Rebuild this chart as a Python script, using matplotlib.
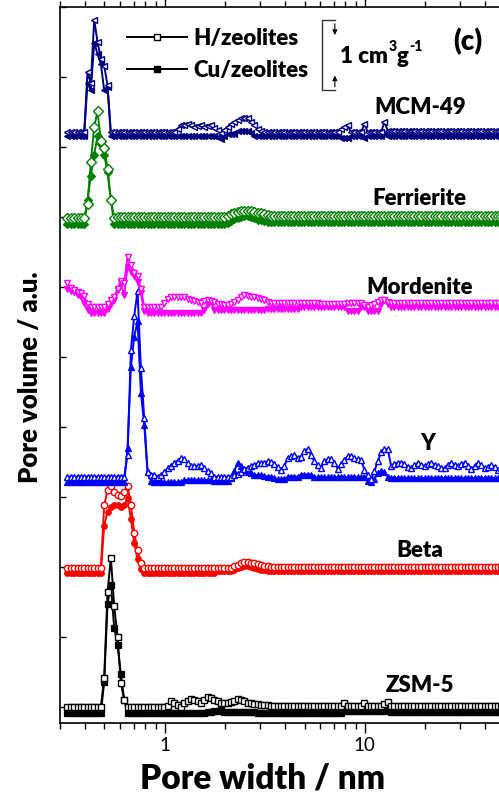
import numpy as np
import matplotlib
matplotlib.use("Agg")
import matplotlib.pyplot as plt
from matplotlib.lines import Line2D
from matplotlib.ticker import NullFormatter, LogLocator

plt.rcParams['font.family'] = ['Lato', 'DejaVu Sans']

# DFT pore-width grid (nm), 60 points per decade
N = 132
pore_width = 0.327 * 10 ** (np.arange(N) / 60.0)

# Pore volume curves (cm3/g, relative to each sample's baseline)
zsm5_h = ([0.0] * 11 + [0.41, 1.64, 2.13, 1.44, 1.0, 0.34, 0.1] + [0.0] * 12
          + [0.02, 0.08, 0.06, 0.03, 0.0, 0.05, 0.09, 0.11, 0.1, 0.08, 0.06, 0.1, 0.14,
             0.13, 0.1, 0.08, 0.06, 0.05, 0.05, 0.07, 0.09, 0.11, 0.1, 0.08, 0.06, 0.05]
          + [0.04, 0.04, 0.03, 0.03, 0.03, 0.02, 0.02] + [0.02] * 20 + [0.06]
          + [0.02] * 5 + [0.06] + [0.02] * 5 + [0.04, 0.07] + [0.02] * 35)
zsm5_cu = ([-0.09] * 11 + [0.36, 1.47, 1.74, 1.13, 0.89, 0.47, 0.1] + [-0.09] * 24
           + [-0.07, -0.07, -0.06, -0.06] + [0.03] + [-0.07] * 10 + [-0.08] * 26
           + [-0.06] * 13 + [-0.02] + [-0.07] * 35)

beta_h = ([0.0] * 11 + [0.89, 1.11, 1.17, 1.08, 1.04, 1.03, 1.08, 1.17, 0.9, 0.5, 0.25, 0.07]
          + [0.0] * 27 + [0.02, 0.04, 0.06, 0.08, 0.08, 0.07, 0.06, 0.05, 0.04, 0.03, 0.02]
          + [0.01] * 71)
beta_cu = ([-0.07] * 11 + [0.6, 0.8, 0.86, 0.9, 0.9, 0.86, 0.9, 0.99, 0.7, 0.35, 0.12, -0.02]
           + [-0.07] * 22 + [-0.05] * 5
           + [-0.03, -0.01, 0.01, 0.02, 0.02, 0.01, 0.0, -0.02, -0.03, -0.04, -0.05]
           + [-0.05] * 71)

y_h = ([0.0] * 18 + [0.31, 1.81, 2.3, 2.65, 1.55, 0.84, 0.06, 0.03]
       + [0.03, 0.0, 0.03, 0.06, 0.12, 0.15, 0.2, 0.23, 0.26, 0.25, 0.2, 0.15, 0.15, 0.15,
          0.16, 0.13, 0.08, 0.05]
       + [0.0] * 6
       + [0.02, 0.04, 0.07, 0.11, 0.13, 0.15, 0.16, 0.19, 0.19, 0.2, 0.22, 0.21, 0.18, 0.14,
          0.09, 0.15, 0.27, 0.29, 0.31, 0.27, 0.28, 0.36, 0.4, 0.31, 0.22, 0.16, 0.13, 0.22,
          0.25, 0.25, 0.2, 0.11, 0.18, 0.24, 0.29, 0.3, 0.26, 0.25, 0.24, 0.1, 0.02, -0.03,
          0.08, 0.22, 0.35, 0.39, 0.39, 0.15, 0.18, 0.2]
       + [0.2, 0.18, 0.14, 0.12, 0.16, 0.2, 0.17, 0.15, 0.18, 0.2, 0.17, 0.15, 0.13, 0.12,
          0.17, 0.2, 0.17, 0.15, 0.18, 0.2, 0.15, 0.11, 0.15, 0.2, 0.16, 0.12, 0.14, 0.17,
          0.14, 0.1, 0.12, 0.15])
y_cu = ([-0.08] * 18 + [0.41, 1.56, 2.0, 2.22, 1.2, 0.74, 0.06, -0.06] + [-0.07]
        + [-0.08] * 8 + [-0.05] * 9 + [-0.06] * 5
        + [-0.02, 0.08, 0.2, 0.15, 0.1, 0.07, 0.05]
        + [0.03, 0.02, 0.02, 0.01, 0.0, 0.0, -0.02] + [-0.04] * 3 + [0.0] * 4
        + [0.03] * 4 + [-0.01] * 16 + [-0.06, -0.08, -0.03, 0.05, 0.08, 0.07, 0.0]
        + [-0.02] * 35)

mor_h = ([0.28, 0.22, 0.19, 0.16, 0.15, 0.1, -0.01] + [-0.05] * 5
         + [-0.02, 0.04, 0.09, 0.2, 0.32, 0.29, 0.66, 0.54, 0.43, 0.38, 0.2] + [-0.05] * 6
         + [0.0, 0.06, 0.09, 0.09, 0.09, 0.09, 0.08, 0.06, 0.05, 0.03, 0.02, 0.0, 0.03, 0.05,
            0.03, 0.01, -0.01, -0.02, -0.03, -0.03, -0.02, 0.02, 0.05, 0.09, 0.11, 0.1, 0.09,
            0.08, 0.07, 0.06, 0.04, 0.02]
         + [0.0] * 15 + [-0.02] * 8 + [0.0] * 5
         + [-0.03, -0.05, -0.03, -0.02, 0.02, 0.04, 0.05, 0.02] + [0.0] * 35)
mor_cu = ([0.2, 0.17, 0.16, 0.11, 0.08, 0.0, -0.1] + [-0.14] * 5
          + [-0.08, -0.02, 0.04, 0.19, 0.28, 0.11, 0.52, 0.45, 0.38, 0.3, 0.14] + [-0.12]
          + [-0.14] * 17 + [-0.1, -0.02, 0.02] + [-0.1] * 16 + [-0.09] * 10
          + [-0.06] * 14 + [-0.11] * 4 + [-0.06] * 2 + [-0.11] * 4
          + [-0.02, 0.04, -0.02] + [-0.05] * 35)

fer_h = ([0.0] * 6 + [0.2, 0.8, 1.3, 1.52, 1.1, 1.0, 0.7, 0.25] + [0.0] + [0.01] * 33
         + [0.03, 0.05, 0.07, 0.08, 0.09, 0.1, 0.1, 0.09, 0.08, 0.07, 0.06, 0.05, 0.04]
         + [0.03] * 71)
fer_cu = ([-0.09] * 6 + [0.25, 0.6, 0.9, 1.17, 1.05, 0.9, 0.65, 0.25] + [-0.09] + [-0.09] * 33
          + [-0.07, -0.05, -0.02, 0.0, 0.01, 0.02, 0.02, 0.01, -0.01, -0.03, -0.04, -0.05, -0.06]
          + [-0.06] * 71)

mcm_h = ([0.0] * 6 + [0.86, 0.7, 1.61, 1.29, 1.05, 0.95, 0.67] + [0.0] * 20
         + [0.05, 0.1, 0.11, 0.12, 0.1, 0.08, 0.09, 0.1, 0.08, 0.09, 0.1, 0.06, 0.03, -0.01,
            0.03, 0.08, 0.12, 0.15, 0.17, 0.2, 0.21, 0.2, 0.15, 0.1, 0.05, 0.02]
         + [0.0] * 23 + [0.04, 0.08, 0.1, 0.0] + [0.0] * 3 + [0.12, 0.0] + [0.0] * 4
         + [0.15, 0.02] + [0.02] * 35)
mcm_cu = ([-0.05] * 6 + [0.71, 0.6, 1.28, 1.12, 0.98, 0.6, 0.65] + [-0.05] * 32
          + [-0.07, -0.1, -0.06, -0.03, -0.03, -0.03, 0.02, 0.02, 0.02, 0.02, -0.01]
          + [-0.05] * 26 + [-0.08] * 3 + [-0.05] * 4 + [-0.08] + [-0.05] * 5 + [-0.02]
          + [-0.05] * 36)

names = ['ZSM-5', 'Beta', 'Y', 'Mordenite', 'Ferrierite', 'MCM-49']
offsets = [0.0, 1.99, 3.29, 5.77, 6.99, 8.21]
h_curves = [zsm5_h, beta_h, y_h, mor_h, fer_h, mcm_h]
cu_curves = [zsm5_cu, beta_cu, y_cu, mor_cu, fer_cu, mcm_cu]
colors = ['#000000', '#FF0000', '#0000FF', '#FF00FF', '#008000', '#000080']
markers = ['s', 'o', '^', 'v', 'D', '<']
label_y = [0.31, 2.24, 3.76, 5.99, 7.26, 8.56]
label_x = [18.8, 18.8, 20.6, 18.8, 18.8, 18.8]

for arr in h_curves + cu_curves:
    if len(arr) != N:
        raise ValueError(f"length {len(arr)}")

W, H = 499, 795
fig = plt.figure(figsize=(W / 100, H / 100), dpi=100)
ax = fig.add_axes([60 / W, 72 / H, 439 / W, 716 / H])

for i in range(len(names)):
    off = offsets[i]
    ax.plot(pore_width, off + np.array(cu_curves[i]), color=colors[i], lw=1.4,
            marker=markers[i], ms=4.0, mfc=colors[i], mec=colors[i], mew=0.9)
    ax.plot(pore_width, off + np.array(h_curves[i]), color=colors[i], lw=1.4,
            marker=markers[i], ms=4.6, mfc='white', mec=colors[i], mew=1.0)
    ax.text(label_x[i], label_y[i], names[i], fontsize=16, fontweight='heavy',
            ha='center', va='center')

ax.set_xscale('log')
ax.set_xlim(0.3, 10 ** ((499 - 165) / 200))
ax.set_ylim(-0.23, 10.0)
ax.set_xticks([1, 10], labels=['1', '10'])
ax.xaxis.set_minor_locator(LogLocator(base=10, subs=np.arange(2, 10)))
ax.xaxis.set_minor_formatter(NullFormatter())
ax.set_yticks(np.arange(0, 11))
ax.tick_params(axis='y', which='both', direction='in', length=4, width=1, labelleft=False)
ax.tick_params(axis='x', which='major', direction='out', length=7, width=1, top=True,
               labelsize=13.5, pad=3)
ax.tick_params(axis='x', which='minor', direction='out', length=4, width=1, top=True)
ax.spines['right'].set_visible(False)
for s in ['left', 'top', 'bottom']:
    ax.spines[s].set_linewidth(1.2)

ax.set_xlabel('Pore width / nm', fontsize=24, fontweight='heavy')
ax.xaxis.set_label_coords((263 - 60) / 439, -0.055)
ax.set_ylabel('Pore volume / a.u.', fontsize=18.5, fontweight='heavy')
ax.yaxis.set_label_coords(-0.041, 0.483)

# legend
handles = [Line2D([], [], color='black', lw=1.4, marker='s', ms=4.6, mfc='white', mec='black', mew=1.0),
           Line2D([], [], color='black', lw=1.4, marker='s', ms=4.6, mfc='black', mec='black')]
ax.legend(handles, ['H/zeolites', 'Cu/zeolites'], loc='upper left',
          bbox_to_anchor=(127 / W, 1 - 28 / H), bbox_transform=fig.transFigure,
          frameon=False, handlelength=2.7, handletextpad=0.3, labelspacing=0.5,
          borderpad=0, borderaxespad=0, prop={'weight': 'heavy', 'size': 16})

# scale bar: 1 cm3/g
xb = 10 ** ((322 - 165) / 200)
xa = 10 ** ((335 - 165) / 200)
ax.plot([xa, xb, xb, xa], [9.81, 9.81, 8.81, 8.81], color='#333333', lw=1.0)
ax.annotate('', xy=(xa, 9.56), xytext=(xa, 9.80),
            arrowprops=dict(arrowstyle='-|>', color='black', lw=0.8, mutation_scale=7))
ax.annotate('', xy=(xa, 9.06), xytext=(xa, 8.82),
            arrowprops=dict(arrowstyle='-|>', color='black', lw=0.8, mutation_scale=7))

# unit label built from pieces so the superscripts stay heavy
renderer = fig.canvas.get_renderer()
base_y = 1 - 63 / H
pieces = [('1 cm', 16, 0), ('3', 10, 12), ('g', 16, 0), ('-1', 10, 12)]
x_cur = 340 / W
for txt, size, rise in pieces:
    t = fig.text(x_cur, base_y + rise / H, txt, fontsize=size, fontweight='heavy',
                 ha='left', va='baseline')
    bb = t.get_window_extent(renderer)
    x_cur = bb.x1 / W + 0.5 / W

ax.text(10 ** ((468 - 165) / 200), 9.5, '(c)', fontsize=20, fontweight='heavy',
        ha='center', va='center')

fig.savefig('out.png', dpi=100)
